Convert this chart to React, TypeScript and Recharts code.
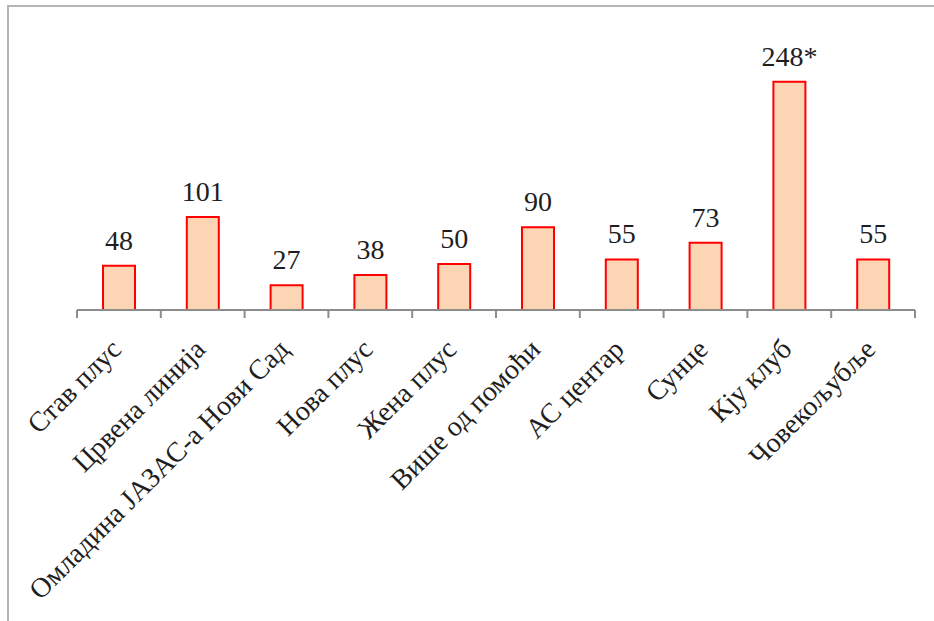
import { BarChart, Bar, XAxis, YAxis, LabelList } from 'recharts'

const categories = [
  'Став плус',
  'Црвена линија',
  'Омладина ЈАЗАС-а Нови Сад',
  'Нова плус',
  'Жена плус',
  'Више од помоћи',
  'АС центар',
  'Сунце',
  'Кју клуб',
  'Човекољубље',
]
const values = [48, 101, 27, 38, 50, 90, 55, 73, 248, 55]
// categories whose value label carries an asterisk
const starred = ['Кју клуб']

const data = categories.map((name, i) => ({
  name,
  value: values[i],
  label: starred.includes(name) ? `${values[i]}*` : `${values[i]}`,
}))

const W = 934
const H = 621
const M = { top: 34, right: 19, bottom: 21, left: 77 }
const AXIS_H = 290
const BAND = (W - M.left - M.right) / categories.length
const FONT = "'Liberation Serif', serif"

function Tick(props: any) {
  const { x, y, index } = props
  const label = props.payload.value
  const top = y - 8 // tick props y sits below the axis line
  const tx = x + 4
  const ty = top + 41
  return (
    <g>
      <line x1={x - BAND / 2} y1={top} x2={x - BAND / 2} y2={top + 8} stroke="#8c8c8c" strokeWidth={2} />
      {index === categories.length - 1 && (
        <line x1={x + BAND / 2} y1={top} x2={x + BAND / 2} y2={top + 8} stroke="#8c8c8c" strokeWidth={2} />
      )}
      <text
        x={tx}
        y={ty}
        transform={`rotate(-45, ${tx}, ${ty})`}
        textAnchor="end"
        style={{ fontFamily: FONT, fontSize: 28 }}
        fill="#1e1e1e"
      >
        {label}
      </text>
    </g>
  )
}

export default function App() {
  return (
    <div style={{ position: 'absolute', left: 0, top: 0, width: W, height: H, background: '#fff', fontFamily: FONT }}>
      <div
        style={{
          position: 'absolute',
          left: 7,
          top: 5,
          width: W,
          height: H,
          borderLeft: '2px solid #b4b4b4',
          borderTop: '2px solid #b4b4b4',
        }}
      />
      <div style={{ position: 'absolute', left: 0, top: 0 }}>
        <BarChart width={W} height={H} data={data} margin={M}>
          <XAxis
            dataKey="name"
            height={AXIS_H}
            interval={0}
            tickLine={false}
            axisLine={{ stroke: '#8c8c8c', strokeWidth: 2 }}
            tick={<Tick />}
          />
          <YAxis hide domain={[0, 300]} />
          <Bar dataKey="value" fill="#FCD5B5" stroke="#FF0000" strokeWidth={2} barSize={32} isAnimationActive={false}>
            <LabelList
              dataKey="label"
              position="top"
              offset={16}
              style={{ fontFamily: FONT, fontSize: 28 }}
              fill="#1e1e1e"
            />
          </Bar>
        </BarChart>
      </div>
    </div>
  )
}
